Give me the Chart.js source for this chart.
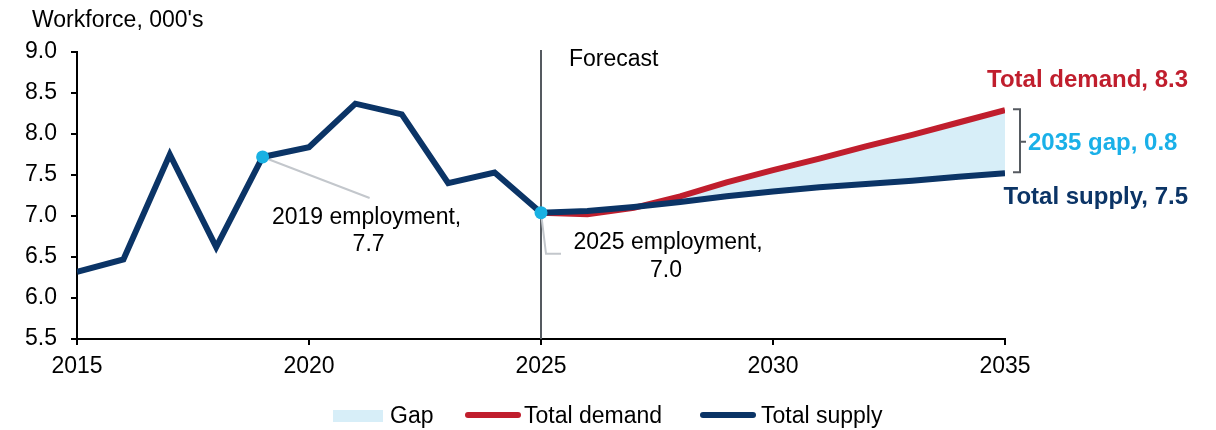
<!DOCTYPE html>
<html>
<head>
<meta charset="utf-8">
<script src="https://cdn.jsdelivr.net/npm/chart.js@4/dist/chart.umd.min.js"></script>
<style>
  html, body { margin: 0; padding: 0; background: #fff; }
  #wrap { position: relative; width: 1216px; height: 430px; }
</style>
</head>
<body>
<div id="wrap"><canvas id="workforceChart"></canvas></div>
<script>
// historic + forecast supply, 2015-2035
const supplyYears = [2015, 2016, 2017, 2018, 2019, 2020, 2021, 2022, 2023, 2024, 2025,
                     2026, 2027, 2028, 2029, 2030, 2031, 2032, 2033, 2034, 2035];
const supplyValues = [6.32, 6.47, 7.75, 6.62, 7.72, 7.84, 8.37, 8.24, 7.40, 7.53, 7.04,
                      7.06, 7.11, 7.17, 7.24, 7.30, 7.35, 7.39, 7.43, 7.48, 7.52];
// demand forecast only
const demandYears = [2025, 2026, 2027, 2028, 2029, 2030, 2031, 2032, 2033, 2034, 2035];
const demandValues = [7.04, 7.02, 7.10, 7.24, 7.41, 7.56, 7.70, 7.85, 7.99, 8.14, 8.29];

const highlightYears = [2019, 2025];
const forecastYear = 2025;
const xTicks = [2015, 2020, 2025, 2030, 2035];
const yMin = 5.5, yMax = 9.0, yStep = 0.5;

const NAVY = "#0b3466";
const RED = "#c01e2d";
const GAP = "#d7eef8";
const CYAN = "#19b1e3";
const FONT = "'Liberation Sans', Arial, sans-serif";

const supplyPts = supplyYears.map((x, i) => ({ x: x, y: supplyValues[i] }));
const demandPts = demandYears.map((x, i) => ({ x: x, y: demandValues[i] }));
const highlightPts = highlightYears.map(x => ({ x: x, y: supplyValues[supplyYears.indexOf(x)] }));

const lastSupply = supplyValues[supplyValues.length - 1];
const lastDemand = demandValues[demandValues.length - 1];

// forecast divider, callouts, end labels and legend
const overlay = {
    id: "overlay",
    beforeDatasetsDraw(chart) {
        const { ctx, chartArea, scales } = chart;
        const fx = scales.x.getPixelForValue(forecastYear);
        ctx.save();
        ctx.strokeStyle = "#555a60";
        ctx.lineWidth = 2;
        ctx.beginPath();
        ctx.moveTo(fx, chartArea.top - 2);
        ctx.lineTo(fx, chartArea.bottom);
        ctx.stroke();

        // leader lines behind the series
        ctx.strokeStyle = "#c3c7cc";
        const p19 = highlightPts[0], p25 = highlightPts[1];
        const a = { x: scales.x.getPixelForValue(p19.x), y: scales.y.getPixelForValue(p19.y) };
        const b = { x: scales.x.getPixelForValue(p25.x), y: scales.y.getPixelForValue(p25.y) };
        ctx.beginPath();
        ctx.moveTo(a.x, a.y);
        ctx.lineTo(a.x + 107, a.y + 41);
        ctx.stroke();
        ctx.beginPath();
        ctx.moveTo(b.x, b.y);
        ctx.lineTo(b.x + 5, b.y + 41);
        ctx.lineTo(b.x + 20, b.y + 41);
        ctx.stroke();
        ctx.restore();
    },
    afterDraw(chart) {
        const { ctx, scales } = chart;
        ctx.save();
        ctx.textBaseline = "middle";
        ctx.fillStyle = "#000";
        ctx.font = "23px " + FONT;
        ctx.textAlign = "left";
        ctx.fillText("Workforce, 000's", 32, 21);

        const fx = scales.x.getPixelForValue(forecastYear);
        ctx.fillText("Forecast", fx + 28, 60);

        const p19 = highlightPts[0], p25 = highlightPts[1];
        const a = { x: scales.x.getPixelForValue(p19.x), y: scales.y.getPixelForValue(p19.y) };
        const b = { x: scales.x.getPixelForValue(p25.x), y: scales.y.getPixelForValue(p25.y) };
        ctx.textAlign = "center";
        ctx.fillText(p19.x + " employment,", a.x + 104, a.y + 61);
        ctx.fillText(p19.y.toFixed(1), a.x + 106, a.y + 88);
        ctx.fillText(p25.x + " employment,", b.x + 127, b.y + 30);
        ctx.fillText(p25.y.toFixed(1), b.x + 125, b.y + 58);

        // end-of-series labels
        const ex = scales.x.getPixelForValue(2035);
        const yd = scales.y.getPixelForValue(lastDemand);
        const ys = scales.y.getPixelForValue(lastSupply);
        ctx.font = "bold 24px " + FONT;
        ctx.textAlign = "right";
        ctx.fillStyle = RED;
        ctx.fillText("Total demand, " + lastDemand.toFixed(1), 1188, yd - 30);
        ctx.fillStyle = NAVY;
        ctx.fillText("Total supply, " + lastSupply.toFixed(1), 1188, ys + 24);

        // bracket for the 2035 gap
        const bx = ex + 8;
        const mid = (yd + ys) / 2;
        ctx.strokeStyle = "#555a60";
        ctx.lineWidth = 2;
        ctx.beginPath();
        ctx.moveTo(bx, yd - 1);
        ctx.lineTo(bx + 7, yd - 1);
        ctx.lineTo(bx + 7, ys - 1);
        ctx.lineTo(bx, ys - 1);
        ctx.moveTo(bx + 7, mid);
        ctx.lineTo(bx + 13, mid);
        ctx.stroke();
        ctx.fillStyle = "#1ab0e8";
        ctx.textAlign = "left";
        ctx.fillText("2035 gap, " + (lastDemand - lastSupply).toFixed(1), bx + 15, mid + 2);

        // legend
        const ly = 415;
        ctx.font = "23px " + FONT;
        ctx.fillStyle = GAP;
        ctx.fillRect(333, ly - 5, 50, 12);
        ctx.fillStyle = "#000";
        ctx.fillText("Gap", 390, ly + 2);
        ctx.lineCap = "round";
        ctx.lineWidth = 6;
        ctx.strokeStyle = RED;
        ctx.beginPath(); ctx.moveTo(468, ly); ctx.lineTo(518, ly); ctx.stroke();
        ctx.fillText("Total demand", 524, ly + 2);
        ctx.strokeStyle = NAVY;
        ctx.beginPath(); ctx.moveTo(703, ly); ctx.lineTo(753, ly); ctx.stroke();
        ctx.fillText("Total supply", 761, ly + 2);
        ctx.restore();
    }
};

const ctx = document.getElementById("workforceChart").getContext("2d");
const chart = new Chart(ctx, {
    type: "line",
    data: {
        datasets: [{
            label: "Highlight",
            data: highlightPts,
            showLine: false,
            pointRadius: 6.5,
            pointBackgroundColor: CYAN,
            pointBorderWidth: 0
        }, {
            label: "Total supply",
            data: supplyPts,
            borderColor: NAVY,
            borderWidth: 6,
            pointRadius: 0,
            tension: 0,
            fill: false
        }, {
            label: "Total demand",
            data: demandPts,
            borderColor: RED,
            borderWidth: 6,
            pointRadius: 0,
            tension: 0,
            fill: { target: 1, above: GAP, below: GAP }
        }]
    },
    options: {
        responsive: true,
        maintainAspectRatio: false,
        animation: false,
        layout: { padding: { left: 0, right: 211, top: 52, bottom: 0 } },
        plugins: {
            legend: { display: false },
            tooltip: { enabled: false }
        },
        scales: {
            x: {
                type: "linear",
                min: 2015,
                max: 2035,
                afterBuildTicks: (scale) => { scale.ticks = xTicks.map(v => ({ value: v })); },
                afterFit: (scale) => { scale.height = 91; },
                ticks: {
                    color: "#000",
                    font: { family: FONT, size: 23 },
                    padding: 8,
                    maxRotation: 0,
                    callback: (v) => String(v)
                },
                grid: { drawOnChartArea: false, drawTicks: true, tickLength: 6, color: "#000", lineWidth: 2 },
                border: { color: "#000", width: 2 }
            },
            y: {
                min: yMin,
                max: yMax,
                afterFit: (scale) => { scale.width = 77; },
                ticks: {
                    stepSize: yStep,
                    color: "#000",
                    font: { family: FONT, size: 23 },
                    padding: 14,
                    callback: (v) => v.toFixed(1)
                },
                grid: { drawOnChartArea: false, drawTicks: true, tickLength: 6, color: "#000", lineWidth: 2 },
                border: { color: "#000", width: 2 }
            }
        }
    },
    plugins: [overlay]
});
</script>
</body>
</html>
